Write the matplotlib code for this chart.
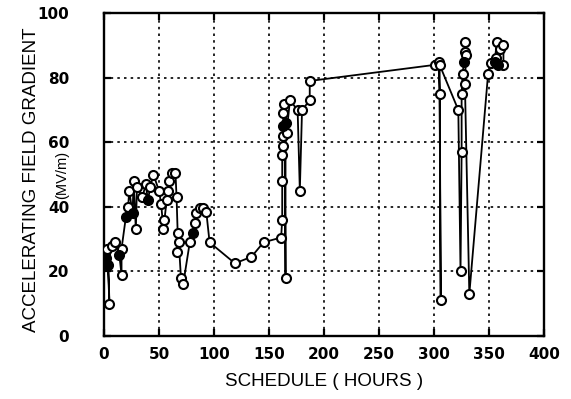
import matplotlib
matplotlib.use("Agg")
import matplotlib.pyplot as plt
import numpy as np

# Schedule (hours) and accelerating field gradient (MV/m), in time order
hours = [2, 3, 5, 4, 7, 10, 14, 16, 16, 20, 22, 23, 26, 27, 29, 30, 35, 38, 40, 42,
         45, 50, 52, 54, 55, 57, 58, 59, 62, 65, 66, 67, 66, 68, 70, 72, 78, 81, 83, 84,
         87, 90, 93, 96, 119, 134, 145, 161, 162, 162, 162, 163, 163, 163, 163, 164,
         165, 165, 166, 169, 176, 178, 180, 187, 187, 301, 304, 305, 306, 305, 322, 324,
         325, 325, 326, 327, 328, 328, 329, 328, 332, 349, 352, 355, 357, 360, 363, 363,
         358, 356]
gradient = [24, 27, 10, 22, 28, 29, 25, 19, 27, 37, 40, 45, 38, 48, 33, 46, 43, 47, 42, 46,
            50, 45, 41, 33, 36, 42, 45, 48, 50.5, 50.5, 43, 32, 26, 29, 18, 16, 29, 32, 35, 38,
            39.5, 39.5, 38.5, 29, 22.5, 24.5, 29, 30.5, 36, 48, 56, 59, 65, 62, 69, 72,
            18, 66, 63, 73, 70, 45, 70, 73, 79, 84, 85, 75, 11, 84, 70, 20,
            57, 75, 81, 85, 88, 91, 87, 78, 13, 81, 84.5, 85, 91, 89, 90, 84,
            84, 86]
filled = [1, 0, 0, 1, 0, 0, 1, 0, 0, 1, 0, 0, 1, 0, 0, 0, 0, 0, 1, 0,
          0, 0, 0, 0, 0, 0, 0, 0, 0, 0, 0, 0, 0, 0, 0, 0, 0, 1, 0, 0,
          0, 0, 0, 0, 0, 0, 0, 0, 0, 0, 0, 0, 1, 0, 0, 0,
          0, 1, 0, 0, 0, 0, 0, 0, 0, 0, 0, 0, 0, 0, 0, 0,
          0, 0, 0, 1, 0, 0, 0, 0, 0, 0, 0, 1, 0, 0, 0, 0,
          1, 0]

xticks = [0, 50, 100, 150, 200, 250, 300, 350, 400]
yticks = [0, 20, 40, 60, 80, 100]

plt.rcParams["font.family"] = ["Liberation Sans", "DejaVu Sans"]

fig = plt.figure(figsize=(5.71, 3.99), dpi=100)
ax = fig.add_axes([0.182, 0.158, 0.771, 0.809])

h = np.array(hours, dtype=float)
g = np.array(gradient, dtype=float)
f = np.array(filled, dtype=bool)

ax.plot(h, g, color="black", lw=1.3, zorder=3)
ax.plot(h[~f], g[~f], ls="none", marker="o", ms=6.5, mfc="white", mec="black", mew=1.5, zorder=4)
ax.plot(h[f], g[f], ls="none", marker="o", ms=6.5, mfc="black", mec="black", mew=1.5, zorder=5)

ax.set_xlim(0, 400)
ax.set_ylim(0, 100)
ax.set_xticks(xticks)
ax.set_yticks(yticks)
tick_font = dict(family="DejaVu Sans", fontsize=11, fontweight="bold")
ax.set_xticklabels([str(t) for t in xticks], **tick_font)
ax.set_yticklabels([str(t) for t in yticks], **tick_font)

ax.grid(True, color="black", linestyle=(0, (1.5, 2.5)), linewidth=1.2)
ax.tick_params(direction="in", length=5, width=1.6, top=True, right=True,
               labelbottom=True, labelleft=True)
ax.tick_params(axis="y", pad=25)
ax.tick_params(axis="x", pad=8)
for s in ax.spines.values():
    s.set_linewidth(1.7)

ax.set_xlabel("SCHEDULE ( HOURS )", fontsize=13.5, labelpad=8)
fig.text(32 / 571, 1 - 180 / 399, "ACCELERATING FIELD GRADIENT", fontsize=13.5,
         rotation=90, ha="center", va="center")
fig.text(62 / 571, 1 - 175 / 399, "(MV/m)", fontsize=10.5,
         rotation=90, ha="center", va="center")

fig.savefig("out.png", dpi=100)
